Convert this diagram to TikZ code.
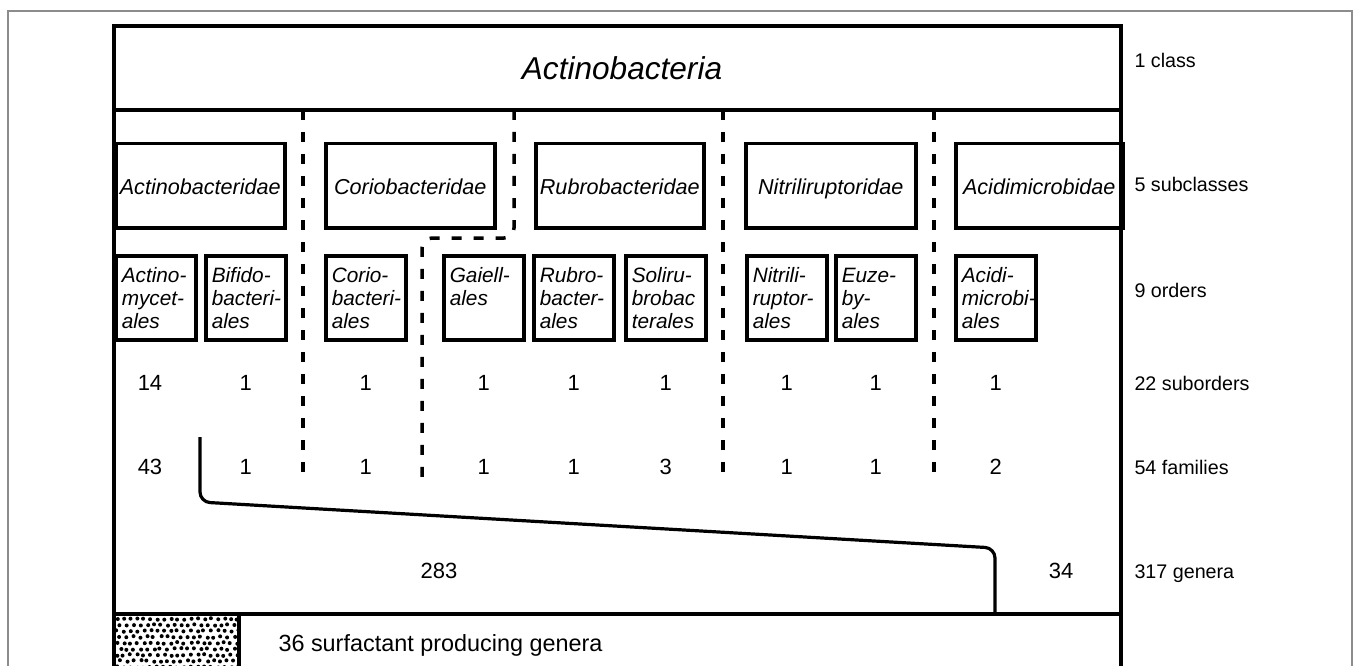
\documentclass[tikz,border=0pt]{standalone}
\usepackage{fontspec}
\setmainfont{Liberation Sans}
\usetikzlibrary{calc}
\hyphenpenalty=10000
\exhyphenpenalty=10000
\tikzset{
  boxline/.style = {color=#1, line width=3.5pt},
  outerline/.style = {color=#1, line width=1.5pt},
  divider/.style = {color=#1, line width=3.5pt, dash pattern=on 10pt off 12pt},
  genusline/.style = {color=#1, line width=3.2pt, rounded corners=10pt},
  subbox/.style = {draw, line width=3.5pt, anchor=north west, minimum height=84pt, minimum width=#1, inner sep=0pt, text height=18pt, text depth=0pt, font=\fontsize{21.6}{26}\selectfont\itshape},
  ordbox/.style = {draw, line width=3.5pt, anchor=north west, minimum height=84pt, text width=68pt, inner xsep=6pt, inner ysep=0pt, align=left, font=\fontsize{20.8}{23}\selectfont\itshape, execute at begin node={\rule{0pt}{16pt}}},
  num/.style = {anchor=base, font=\fontsize{22}{26}\selectfont},
  rowlabel/.style = {anchor=base west, font=\fontsize{19.7}{24}\selectfont}
}

\begin{document}
\begin{tikzpicture}[x=1pt,y=-1pt]

    \useasboundingbox (0,0) rectangle (1358,666);

    % Coordinates
    \coordinate (sub) at (0,390);
    \coordinate (fam) at (0,474);
    \coordinate (gen) at (0,578);

    % Outer frame
    \draw[outerline={black!45}] (8,666) -- (8,11) -- (1352,11) -- (1352,666);

    % Body
    \draw[boxline={black}] (114,666) -- (114,26) -- (1121,26) -- (1121,666);
    \draw[boxline={black}] (114,110) -- (1121,110);
    \draw[boxline={black}] (114,614) -- (1121,614);

    % Class
    \node[anchor=base, font=\fontsize{31.6}{38}\selectfont\itshape] (cls) at (622,80) {Actinobacteria};

    % Subclasses
    \node[subbox=169pt] (sc1) at (114,142) {Actinobacteridae};
    \node[subbox=169pt] (sc2) at (324,142) {Coriobacteridae};
    \node[subbox=168pt] (sc3) at (534,142) {Rubrobacteridae};
    \node[subbox=170pt] (sc4) at (744,142) {Nitriliruptoridae};
    \node[subbox=167pt] (sc5) at (954,142) {Acidimicrobidae};

    % Orders
    \node[ordbox] (o1) at (114,254) {Actino-\\mycet-\\ales};
    \node[ordbox] (o2) at (204,254) {Bifido-\\bacteri-\\ales};
    \node[ordbox] (o3) at (324,254) {Corio-\\bacteri-\\ales};
    \node[ordbox] (o4) at (442,254) {Gaiell-\\ales\\\mbox{}};
    \node[ordbox] (o5) at (532,254) {Rubro-\\bacter-\\ales};
    \node[ordbox] (o6) at (624,254) {Soliru-\\brobac\\terales};
    \node[ordbox] (o7) at (745,254) {Nitrili-\\ruptor-\\ales};
    \node[ordbox] (o8) at (834,254) {Euze-\\by-\\ales};
    \node[ordbox] (o9) at (954,254) {Acidi-\\microbi-\\ales};

    % Dividers
    \draw[divider={black}] (303,110) -- (303,478);
    \draw[divider={black}, rounded corners=10pt] (514,110) -- (514,238) -- (422,238) -- (422,483);
    \draw[divider={black}] (723,110) -- (723,477);
    \draw[divider={black}] (934,110) -- (934,477);

    % Suborders
    \node[num] (s1) at (150,390) {14};
    \node[num] (s2) at (o2 |- sub) {1};
    \node[num] (s3) at (o3 |- sub) {1};
    \node[num] (s4) at (o4 |- sub) {1};
    \node[num] (s5) at (o5 |- sub) {1};
    \node[num] (s6) at (o6 |- sub) {1};
    \node[num] (s7) at (o7 |- sub) {1};
    \node[num] (s8) at (o8 |- sub) {1};
    \node[num] (s9) at (o9 |- sub) {1};

    % Families
    \node[num] (f1) at (s1 |- fam) {43};
    \node[num] (f2) at (o2 |- fam) {1};
    \node[num] (f3) at (o3 |- fam) {1};
    \node[num] (f4) at (o4 |- fam) {1};
    \node[num] (f5) at (o5 |- fam) {1};
    \node[num] (f6) at (o6 |- fam) {3};
    \node[num] (f7) at (o7 |- fam) {1};
    \node[num] (f8) at (o8 |- fam) {1};
    \node[num] (f9) at (o9 |- fam) {2};

    % Genera
    \draw[genusline={black}] (200,437) -- (200,502) -- (995,548) -- (995,614);
    \node[num] (g1) at (439,578) {283};
    \node[num] (g2) at (1061,578) {34};

    % Surfactant producers
    \begin{scope}
      \clip (114,614) rectangle (238,666);
      \pgfmathsetseed{11}
      \foreach \j in {0,...,8} {
        \foreach \i in {0,...,19} {
          \pgfmathsetmacro{\dx}{117+\i*6.7+mod(\j,2)*3.3+rand*1.2}
          \pgfmathsetmacro{\dy}{619+\j*6.0+rand*0.9}
          \fill (\dx,\dy) circle (2pt);
        }
      }
    \end{scope}
    \draw[boxline={black}] (239,614) -- (239,666);
    \node[anchor=base west, font=\fontsize{23.4}{28}\selectfont] (sp) at (275,651) {36 surfactant producing genera};

    % Labels
    \node[rowlabel] at (1131,68) {1 class};
    \node[rowlabel] at (1131,192) {5 subclasses};
    \node[rowlabel] at (1131,297) {9 orders};
    \node[rowlabel] at (1131,390) {22 suborders};
    \node[rowlabel] at (1131,474) {54 families};
    \node[rowlabel] at (1131,578) {317 genera};

\end{tikzpicture}
\end{document}
